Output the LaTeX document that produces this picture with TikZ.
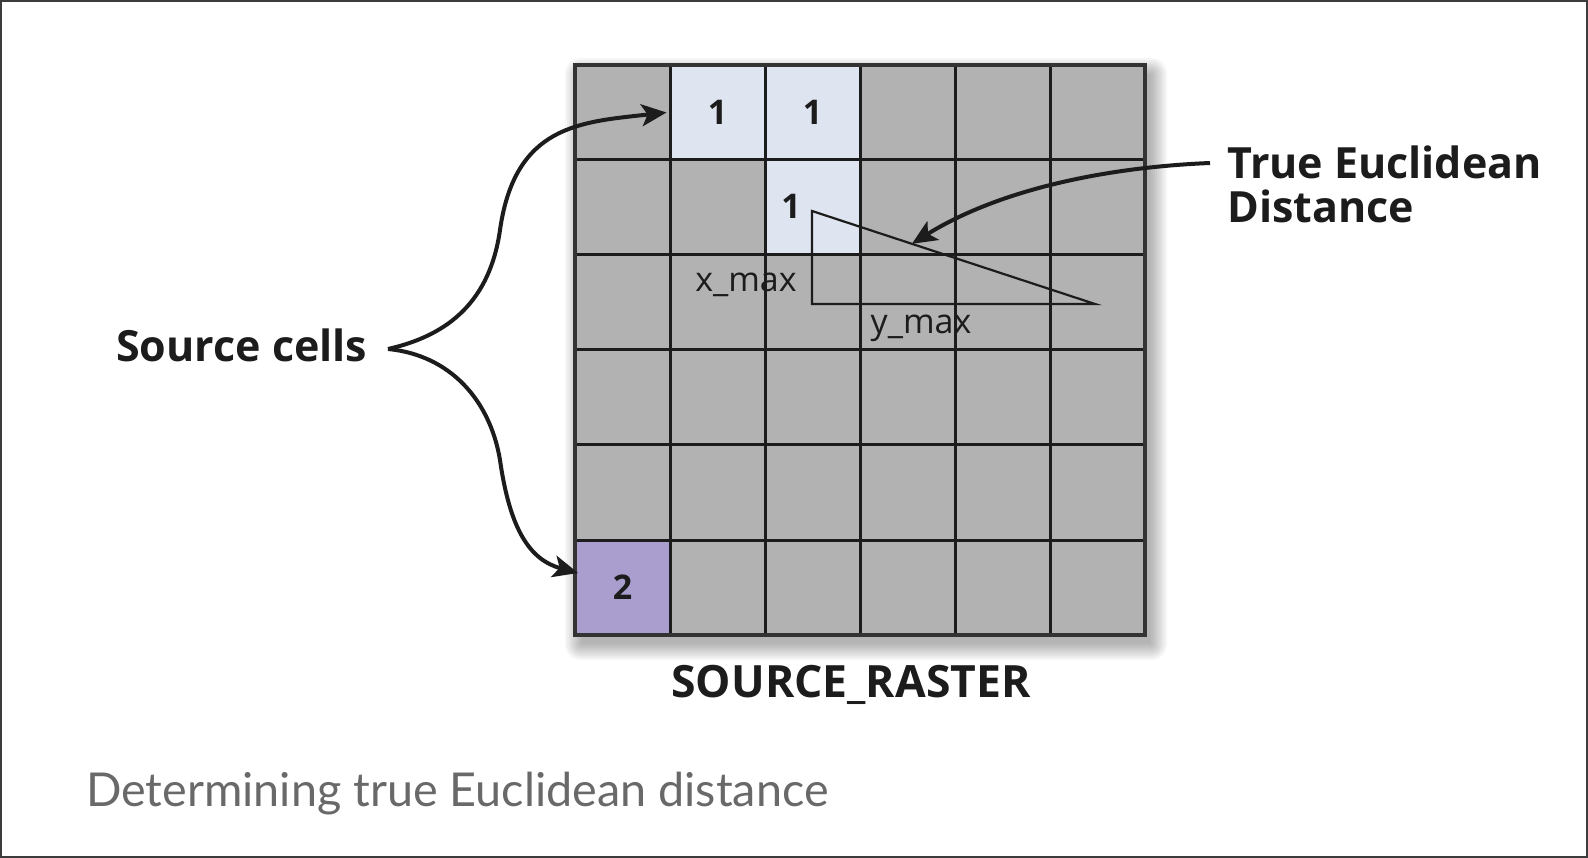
\documentclass[tikz,border=0pt]{standalone}
\usepackage{fontspec}
\setmainfont{Open Sans}
\newfontfamily\capfont{Lato}
\usetikzlibrary{arrows.meta,calc}
\definecolor{cellgray}{RGB}{178,178,178}
\definecolor{cellblue}{RGB}{223,228,241}
\definecolor{cellpurple}{RGB}{170,158,206}
\definecolor{ink}{RGB}{28,28,28}
\definecolor{capgray}{RGB}{105,105,105}
\definecolor{framegray}{RGB}{60,60,60}
\tikzset{
  cell/.style={draw=ink, line width=3pt, minimum size=95pt, inner sep=0pt, fill=cellgray,
    font=\fontsize{34}{36}\selectfont\bfseries, text=ink},
  lbl/.style={font=\fontsize{43}{44}\selectfont\bfseries, text=ink, inner sep=0pt},
  axislbl/.style={font=\fontsize{34}{36}\selectfont, text=ink, inner sep=0pt},
  pointer/.style={draw=ink, line width=4pt, -{Stealth[length=25pt,width=22pt,inset=6pt]}},
}
\begin{document}
\begin{tikzpicture}[x=1pt,y=-1pt]
\useasboundingbox (0,0) rectangle (1588,858);
\fill[white] (0,0) rectangle (1588,858);
\draw[framegray, line width=2pt] (1,1) rectangle (1587,857);
% shadow
\foreach \r in {0,2,...,16}
  \fill[black, opacity=0.035, rounded corners=\r pt] (575+6-\r,65+9-\r) rectangle (1145+6+\r,635+9+\r);
% grid
\foreach \r in {0,...,5}
  \foreach \c in {0,...,5}
    \node[cell] (c\r\c) at (622.5+95*\c, 112.5+95*\r) {};
\node[cell, fill=cellblue] (s01) at (c01) {1};
\node[cell, fill=cellblue] (s02) at (c02) {1};
\node[cell, fill=cellblue] (s12) at (c12) {};
\node[cell, fill=cellpurple] (s50) at (c50) {2};
\node[font=\fontsize{34}{36}\selectfont\bfseries, text=ink, inner sep=0pt] (one) at (791,206) {1};
\draw[ink!90, line width=4pt] (575,65) rectangle (1145,635);
% triangle
\coordinate (tA) at (812,211);
\coordinate (tB) at (812,304);
\coordinate (tC) at (1095,304);
\draw[ink, line width=2.2pt, line join=miter] (tA) -- (tB) -- (tC) -- cycle;
\node[axislbl] (xmax) at (746,285) {x\_max};
\node[axislbl] (ymax) at (921,328) {y\_max};
% labels
\node[lbl, anchor=west] (src) at (116,345) {Source cells};
\node[lbl, anchor=west, align=left] (ted) at (1227,184) {True Euclidean\\Distance};
\node[lbl, anchor=base, font=\fontsize{44.5}{46}\selectfont\bfseries] (raster) at (851,697) {SOURCE\_RASTER};
\node[anchor=base west, inner sep=0pt, font=\capfont\fontsize{46.7}{49}\selectfont, text=capgray] (cap) at (86,806) {Determining true Euclidean distance};
% arrows
\coordinate (srcout) at (388,349);
\coordinate (tip2) at (578,573);
\coordinate (tipT) at ($(tA)!0.353!(tC)$);
\coordinate (tedin) at (1210,163);
\draw[pointer] (srcout) .. controls (450,335) and (490,300) .. (500,230) .. controls (515,125) and (580,122) .. ([xshift=-2pt]s01.west);
\draw[pointer] (srcout) .. controls (450,355) and (490,400) .. (500,460) .. controls (510,530) and (530,560) .. (tip2);
\draw[pointer] (tedin) .. controls (1090,168) and (990,195) .. (tipT);
\end{tikzpicture}
\end{document}
